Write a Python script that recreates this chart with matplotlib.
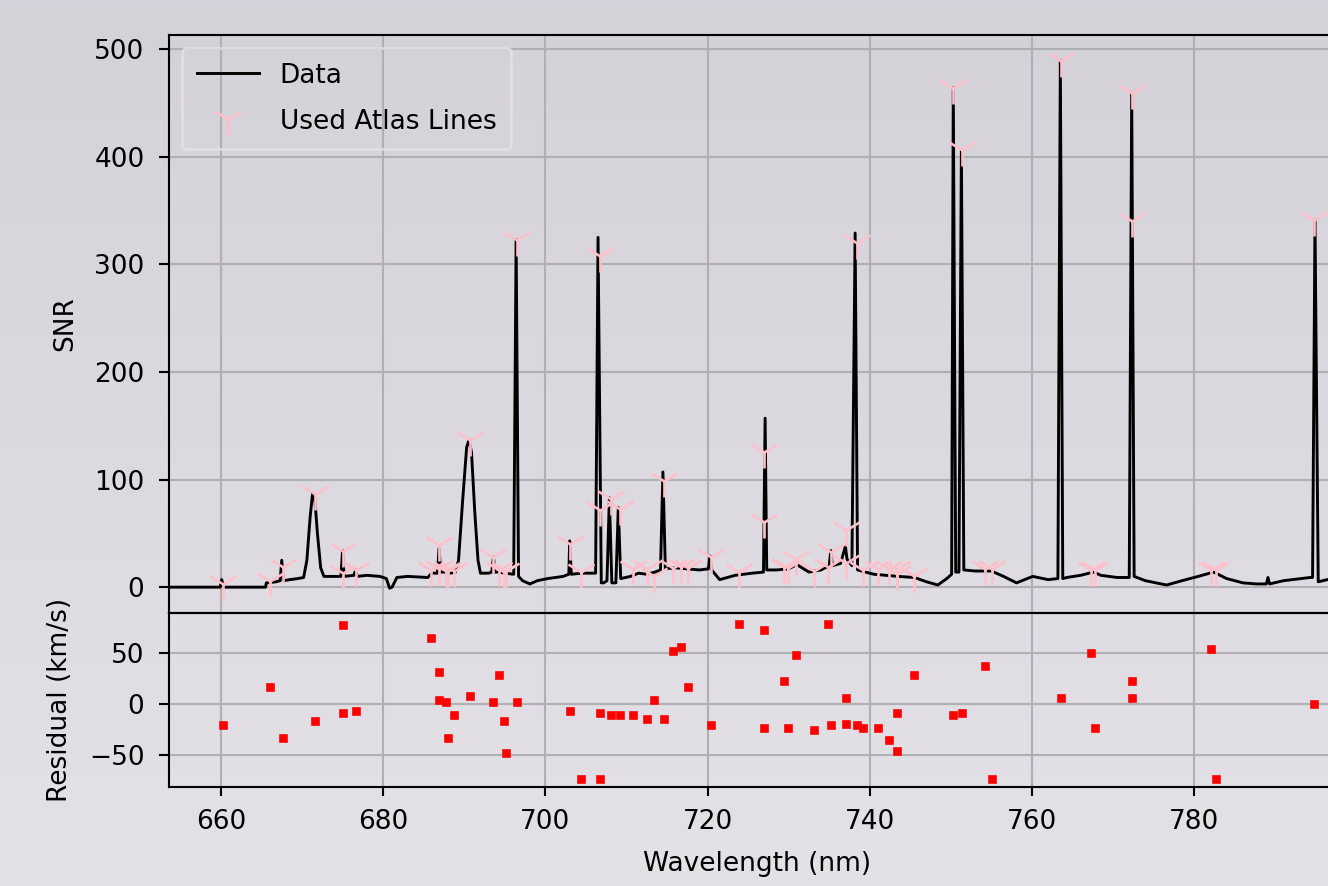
import numpy as np
import matplotlib
matplotlib.use('Agg')
import matplotlib.pyplot as plt

# Espectro (longitud de onda en nm, SNR)
spec_wl = [653.5, 659.9, 660.1, 660.3, 665.5, 665.6, 666.8, 667.3, 667.5, 667.7,
           668.5, 669.5, 670.2, 670.6, 671.0, 671.3, 671.6, 671.9, 672.3, 672.7,
           674.8, 675.0, 675.2, 676.4, 676.6, 676.8, 678.0, 679.6, 680.4, 680.8,
           681.1, 681.7, 683.0, 685.5, 686.0, 686.7, 686.9, 687.1, 687.8, 688.3,
           688.9, 689.3, 689.8, 690.3, 690.6, 690.9, 691.3, 691.7, 692.0, 693.0,
           693.4, 693.6, 693.8, 694.3, 695.0, 696.1, 696.4, 696.7, 697.2, 698.1,
           699.0, 700.3, 702.2, 702.9, 703.0, 703.2, 704.5, 706.2, 706.5, 706.9,
           707.2, 707.6, 707.9, 708.2, 708.7, 709.0, 709.3, 710.5, 711.5, 712.5,
           713.5, 714.2, 714.5, 714.8, 716.0, 717.5, 719.0, 720.1, 720.3, 720.5,
           721.5, 723.4, 725.5, 726.9, 727.1, 727.3, 728.5, 730.0, 731.0, 732.5,
           734.0, 735.0, 735.2, 735.4, 736.4, 737.0, 737.2, 737.8, 738.2, 738.5,
           739.5, 740.5, 742.0, 743.5, 745.5, 747.0, 748.4, 749.5, 750.1, 750.3,
           750.6, 751.0, 751.3, 751.6, 753.0, 755.0, 756.5, 758.1, 760.1, 762.0,
           763.2, 763.5, 763.8, 764.3, 766.0, 767.6, 768.5, 770.5, 772.0, 772.3,
           772.6, 774.0, 776.6, 778.5, 780.5, 782.4, 784.0, 786.0, 787.7, 788.9,
           789.1, 789.3, 791.0, 794.3, 794.6, 794.9, 795.3, 797.0, 800.0]
spec_snr = [0, 0, 7, 0, 0, 4, 5, 6, 25, 6,
            7, 8, 9, 25, 65, 87, 80, 50, 18, 10,
            10, 34, 10, 11, 16, 10, 11, 10, 8, -1,
            0, 9, 10, 9, 13, 13, 36, 14, 14, 13,
            14, 25, 80, 130, 137, 125, 70, 25, 13, 13,
            14, 28, 14, 14, 13, 12, 323, 10, 6, 3,
            6, 8, 10, 12, 43, 12, 13, 13, 325, 4,
            4, 6, 83, 4, 4, 74, 8, 10, 13, 12,
            14, 16, 107, 17, 18, 17, 16, 17, 29, 16,
            7, 11, 13, 14, 157, 16, 16, 17, 21, 14,
            16, 20, 34, 20, 22, 38, 26, 20, 329, 16,
            14, 12, 11, 10, 9, 5, 2, 8, 12, 464,
            14, 14, 406, 16, 15, 15, 10, 4, 10, 7,
            8, 489, 8, 9, 11, 14, 11, 9, 9, 459,
            10, 6, 2, 6, 10, 14, 8, 4, 3, 3,
            9, 3, 6, 9, 9, 341, 5, 8, 9]

# Lineas del atlas usadas: longitud de onda, SNR del marcador, residuo (km/s)
line_wl = [660.24, 666.04, 667.64, 671.6, 675.05, 675.05, 676.65,
           685.9, 686.93, 686.93, 687.74, 688.0, 688.77, 690.66,
           693.54, 694.29, 694.86, 695.14, 696.46,
           703.07, 704.39, 706.75, 706.75, 708.07, 709.15,
           710.75, 712.55, 713.35, 714.67, 715.75, 716.79, 717.59,
           720.42, 723.92,
           726.97, 726.97, 729.38, 729.89, 730.93, 733.08, 734.9, 735.22,
           737.04, 737.04, 738.41,
           739.18, 741.0, 742.37, 743.42, 743.42, 745.51,
           750.3, 751.34, 754.26, 755.03,
           763.55, 767.24, 767.74, 772.3, 772.3,
           782.05, 782.64, 794.8]
line_snr = [3, 6, 19, 87, 34, 13, 16,
            16, 39, 17, 15, 15, 15, 137,
            28, 16, 14, 15, 323,
            40, 14, 308, 72, 82, 73,
            17, 17, 10, 99, 18, 19, 18,
            28, 14,
            126, 61, 19, 18, 26, 15, 19, 33,
            53, 22, 320,
            16, 17, 17, 17, 12, 10,
            464, 406, 17, 17,
            489, 16, 16, 459, 340,
            16, 16, 341]
residual = [-21.1, 16.2, -33.4, -16.9, 77.0, -8.8, -6.5,
            64.6, 31.2, 3.9, 1.9, -33.4, -10.7, 8.1,
            1.9, 28.9, -16.9, -48.4, 1.9,
            -6.5, -73.4, -8.4, -73.4, -10.7, -10.7,
            -10.7, -14.9, 3.9, -14.9, 51.9, 56.2, 16.2,
            -21.1, 78.9,
            72.7, -23.4, 22.7, -23.4, 48.1, -25.3, 78.9, -21.1,
            5.8, -19.2, -21.1,
            -23.4, -23.4, -35.7, -8.8, -46.4, 28.9,
            -10.7, -8.8, 37.3, -73.4,
            5.8, 50.0, -23.4, 22.7, 5.8,
            53.9, -73.4, -0.3]

dpi = 190
fig = plt.figure(figsize=(1328 / dpi, 886 / dpi), dpi=dpi)

# Fondo con degradado vertical
bg = fig.add_axes([0, 0, 1, 1], zorder=-10)
top_c = np.array([0.831, 0.820, 0.851])
bot_c = np.array([0.894, 0.886, 0.906])
t = np.linspace(0, 1, 256)[:, None]
grad = top_c[None, :] * (1 - t) + bot_c[None, :] * t
bg.imshow(grad[:, None, :], aspect='auto', extent=[0, 1, 0, 1])
bg.axis('off')

left = 169 / 1328
width = (1345 - 169) / 1328
ax1 = fig.add_axes([left, 1 - 613 / 886, width, (613 - 35) / 886])
ax2 = fig.add_axes([left, 1 - 787 / 886, width, (787 - 613) / 886], sharex=ax1)
for ax in (ax1, ax2):
    ax.set_facecolor('none')
    ax.grid(True)
    ax.tick_params(axis='y', pad=5.5, length=3.8)
    ax.tick_params(axis='x', pad=5)

ax1.plot(spec_wl, spec_snr, color='black', lw=1.1, label='Data')
ax1.plot(line_wl, line_snr, '1', color='pink', ms=12, mew=1.0, label='Used Atlas Lines')
ax1.set_ylabel('SNR', labelpad=6)
ax1.set_ylim(-24, 513)
ax1.set_yticks([0, 100, 200, 300, 400, 500])
ax1.tick_params(axis='x', labelbottom=False, length=0)
leg = ax1.legend(loc='upper left', facecolor='none', edgecolor='#e6e4ea',
                 labelspacing=0.75, handlelength=2.35, borderpad=0.55)

ax2.plot(line_wl, residual, 's', color='red', ms=2.4)
ax2.set_ylabel('Residual (km/s)', labelpad=6)
ax2.set_ylim(-81.4, 89.2)
ax2.set_yticks([-50, 0, 50])
ax2.set_xlim(653.6, 798.6)
ax2.set_xticks([660, 680, 700, 720, 740, 760, 780])
ax2.set_xlabel('Wavelength (nm)', labelpad=6)

fig.savefig('out.png', dpi=dpi)
